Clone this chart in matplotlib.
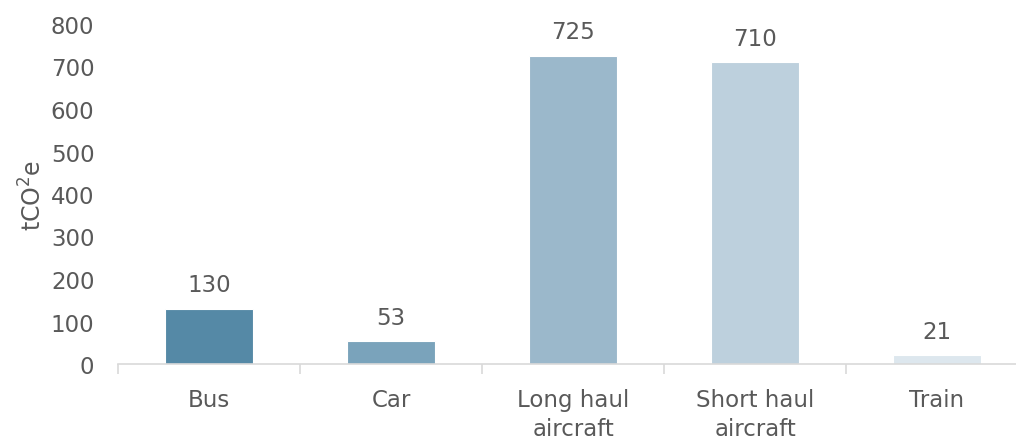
import numpy as np
import matplotlib.pyplot as plt

# data
categories = ['Bus', 'Car', 'Long haul\naircraft', 'Short haul\naircraft', 'Train']
values = [130, 53, 725, 710, 21]
colors = ['#5589A6', '#7AA3BB', '#9BB8CB', '#BDD0DD', '#DDE7EE']

plt.rcParams['font.family'] = ['DejaVu Sans']
text_col = '#595959'
fs = 16.5

fig = plt.figure(figsize=(10.16, 4.39), dpi=100)
ax = fig.add_axes([118 / 1016, 74 / 439, 910 / 1016, 340 / 439])

x = np.arange(len(categories))
bars = ax.bar(x, values, width=0.48, color=colors, edgecolor='white', linewidth=0.8)

for xi, v in zip(x, values):
    ax.annotate(str(v), (xi, v), xytext=(0, 9), textcoords='offset points',
                ha='center', va='bottom', fontsize=fs, color=text_col)

ax.set_xlim(-0.5, len(categories) - 0.5)
ax.set_ylim(0, 800)
ax.set_yticks(range(0, 801, 100))
ax.set_xticks(x)
ax.set_xticklabels(categories, fontsize=fs, color=text_col, linespacing=1.35)
ax.set_xticks(np.arange(-0.5, len(categories), 1), minor=True)
ax.tick_params(axis='x', which='major', length=0, pad=17)
ax.tick_params(axis='x', which='minor', length=7, color='#D9D9D9', width=1.2)
ax.tick_params(axis='y', length=0, labelsize=fs, labelcolor=text_col, pad=17)

for s in ['top', 'right', 'left']:
    ax.spines[s].set_visible(False)
ax.spines['bottom'].set_color('#D9D9D9')
ax.spines['bottom'].set_linewidth(1.2)

ax.set_ylabel('tCO$^2$e', fontsize=17, color=text_col, labelpad=3)

fig.savefig('out.png', dpi=100)
